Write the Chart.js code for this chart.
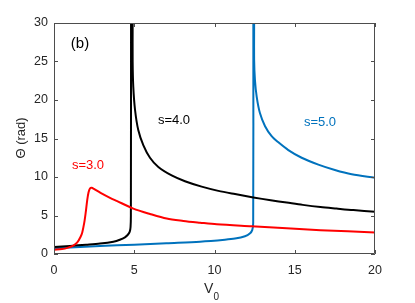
<!DOCTYPE html>
<html>
<head>
<meta charset="utf-8">
<script src="https://cdn.jsdelivr.net/npm/chart.js@4.4.1/dist/chart.umd.min.js"></script>
<style>
  html, body { margin: 0; padding: 0; background: #ffffff; }
  #wrap { width: 415px; height: 303px; }
</style>
</head>
<body>
<div id="wrap"><canvas id="c" width="415" height="303"></canvas></div>
<script>
// ---- data ----
const xTicks = [0, 5, 10, 15, 20];
const yTicks = [0, 5, 10, 15, 20, 25, 30];

// s = 3.0 (red)
const s3_x = [0, 0.5, 0.83, 1.2, 1.45, 1.65, 1.76, 1.88, 1.97, 2.07, 2.15, 2.24, 2.35, 2.49, 2.9, 3.49, 3.9, 4.94, 5.98, 7.02, 8.06, 9.1, 10.14, 12.3, 14.5, 16.6, 20];
const s3_y = [0.55, 0.65, 0.8, 1.1, 1.5, 2.2, 2.8, 4.0, 5.3, 7.0, 8.0, 8.5, 8.6, 8.45, 7.95, 7.3, 6.9, 5.9, 5.2, 4.6, 4.3, 4.07, 3.86, 3.6, 3.34, 3.1, 2.8];

// s = 4.0 (black): lower branch rising to the asymptote, then upper branch falling
const s4_x = [0, 1, 2, 2.87, 3.7, 4.1, 4.42, 4.6, 4.72, 4.77, 4.79, 4.8, 4.8, 4.9, 4.9, 4.9, 4.94, 5.05, 5.25, 5.57, 5.98, 6.5, 7.33, 8.16, 9.2, 10.24, 11.28, 12.42, 13.5, 14.5, 15.5, 16.6, 17.6, 18.65, 20];
const s4_y = [0.9, 1.05, 1.2, 1.35, 1.6, 1.85, 2.17, 2.5, 2.9, 3.5, 5, 30, 40, 40, 30, 25, 21.7, 18.7, 16.1, 14.1, 12.5, 11.3, 10.2, 9.45, 8.75, 8.2, 7.78, 7.35, 6.98, 6.68, 6.38, 6.1, 5.9, 5.7, 5.5];

// s = 5.0 (blue)
const s5_x = [0, 1, 2.87, 5, 7, 9.1, 10.65, 11.28, 11.9, 12.2, 12.35, 12.41, 12.42, 12.42, 12.47, 12.47, 12.47, 12.52, 12.63, 12.83, 13.15, 13.56, 13.98, 14.6, 15.43, 16.47, 17.5, 18.55, 20];
const s5_y = [0.75, 0.85, 1.05, 1.2, 1.4, 1.6, 1.85, 2.0, 2.3, 2.65, 3.1, 4, 30, 40, 40, 30, 25.2, 22.6, 20.4, 18.3, 16.6, 15.3, 14.5, 13.5, 12.5, 11.6, 10.9, 10.35, 9.9];

const seriesLabels = ['s=3.0', 's=4.0', 's=5.0'];
const seriesColors = ['#FF0000', '#000000', '#0072BD'];

const toPts = (xs, ys) => xs.map((x, i) => ({ x: x, y: ys[i] }));

const FONT = '"Liberation Sans", Arial, Helvetica, sans-serif';
const AXIS_COLOR = '#4d4d4d';
const TEXT_COLOR = '#262626';

const boxPlugin = {
  id: 'boxTicks',
  afterDraw(chart) {
    const ctx = chart.ctx;
    const a = chart.chartArea;
    const xs = chart.scales.x, ys = chart.scales.y;
    ctx.save();
    ctx.strokeStyle = AXIS_COLOR;
    ctx.lineWidth = 1;
    ctx.beginPath();
    ctx.rect(Math.round(a.left) + 0.5, Math.round(a.top) + 0.5, Math.round(a.right - a.left) - 1, Math.round(a.bottom - a.top) - 1);
    ctx.stroke();
    const tl = 4;
    ctx.beginPath();
    xTicks.forEach(v => {
      const p = Math.round(xs.getPixelForValue(v)) + 0.5;
      ctx.moveTo(p, a.bottom); ctx.lineTo(p, a.bottom - tl);
      ctx.moveTo(p, a.top); ctx.lineTo(p, a.top + tl);
    });
    yTicks.forEach(v => {
      const p = Math.round(ys.getPixelForValue(v)) + 0.5;
      ctx.moveTo(a.left, p); ctx.lineTo(a.left + tl, p);
      ctx.moveTo(a.right, p); ctx.lineTo(a.right - tl, p);
    });
    ctx.stroke();

    // panel label
    ctx.fillStyle = '#000000';
    ctx.font = '15px ' + FONT;
    ctx.textAlign = 'center';
    ctx.textBaseline = 'middle';
    ctx.fillText('(b)', 80, 44);

    // curve labels
    ctx.font = '13px ' + FONT;
    ctx.fillStyle = seriesColors[0];
    ctx.fillText(seriesLabels[0], 88, 165);
    ctx.fillStyle = seriesColors[1];
    ctx.fillText(seriesLabels[1], 174, 120);
    ctx.fillStyle = seriesColors[2];
    ctx.fillText(seriesLabels[2], 320, 122);

    // y title
    ctx.fillStyle = TEXT_COLOR;
    ctx.save();
    ctx.translate(21, 138);
    ctx.rotate(-Math.PI / 2);
    ctx.font = '13px ' + FONT;
    ctx.textAlign = 'center';
    ctx.textBaseline = 'middle';
    ctx.fillText('\u0398 (rad)', 0, 0);
    ctx.restore();

    // x title V0 with subscript
    ctx.font = '14px ' + FONT;
    ctx.textAlign = 'left';
    ctx.textBaseline = 'alphabetic';
    ctx.fillText('V', 204, 293);
    ctx.font = '10px ' + FONT;
    ctx.fillText('0', 213.5, 300);
    ctx.restore();
  }
};

const datasets = [
  { label: seriesLabels[0], data: toPts(s3_x, s3_y), borderColor: seriesColors[0] },
  { label: seriesLabels[1], data: toPts(s4_x, s4_y), borderColor: seriesColors[1] },
  { label: seriesLabels[2], data: toPts(s5_x, s5_y), borderColor: seriesColors[2] }
].map(d => Object.assign(d, {
  showLine: true, pointRadius: 0, borderWidth: 2, tension: 0.3, fill: false,
  borderJoinStyle: 'round', borderCapStyle: 'round'
}));

new Chart(document.getElementById('c'), {
  type: 'scatter',
  data: { datasets: datasets },
  options: {
    responsive: false,
    devicePixelRatio: 1,
    animation: false,
    layout: { padding: { left: 0, top: 23, right: 40, bottom: 0 } },
    plugins: { legend: { display: false }, tooltip: { enabled: false } },
    scales: {
      x: {
        type: 'linear', min: 0, max: 20,
        afterBuildTicks: s => { s.ticks = xTicks.map(v => ({ value: v })); },
        afterFit: s => { s.height = 49; },
        grid: { display: false, drawTicks: false },
        border: { display: false },
        ticks: { padding: 9, color: TEXT_COLOR, font: { family: FONT, size: 12.5 }, maxRotation: 0 }
      },
      y: {
        type: 'linear', min: 0, max: 30,
        afterBuildTicks: s => { s.ticks = yTicks.map(v => ({ value: v })); },
        afterFit: s => { s.width = 54; },
        grid: { display: false, drawTicks: false },
        border: { display: false },
        ticks: { padding: 6, color: TEXT_COLOR, font: { family: FONT, size: 12.5 } }
      }
    }
  },
  plugins: [boxPlugin]
});
</script>
</body>
</html>
